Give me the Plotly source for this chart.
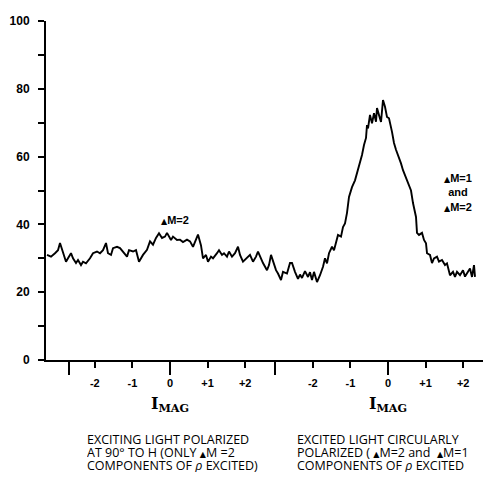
import plotly.graph_objects as go

# Chart-recorder scan position (arbitrary units along the recording) and signal
scan_pos = [0, 4, 8, 11, 13, 15, 17, 19, 21, 24, 26, 29, 31, 34, 36, 39, 43, 46, 50, 53,
            56, 59, 61, 64, 66, 70, 73, 76, 80, 82, 86, 89, 92, 96, 100, 103, 106, 109, 112, 115,
            118, 120, 124, 126, 130, 133, 136, 140, 143, 146, 149, 151, 154, 156, 159, 161, 164, 166, 170, 172,
            175, 177, 180, 182, 185, 188, 191, 193, 196, 200, 203, 206, 209, 211, 214, 216, 220, 222, 224, 226,
            229, 231, 234, 236, 240, 243, 245, 248, 251, 253, 255, 258, 261, 263, 265, 267, 270, 273, 276, 278,
            280, 282, 285, 287, 289, 291, 294, 296, 298, 300, 302, 305, 308, 310, 312, 315, 317, 319, 320, 321,
            323, 325, 327, 329, 330, 332, 334, 336, 338, 340, 342, 345, 347, 349, 351, 354, 356, 359, 361, 364,
            366, 369, 370, 372, 375, 377, 379, 380, 383, 385, 387, 390, 392, 395, 398, 400, 403, 406, 408, 410,
            413, 416, 418, 420, 423, 425, 427, 428]
signal = [31.0, 30.5, 31.5, 32.4, 34.5, 32.4, 30.5, 29.0, 30.0, 31.5, 30.0, 28.6, 29.5, 28.0, 29.0, 28.5, 30.0, 31.5, 32.0, 31.5,
          32.4, 34.5, 31.5, 31.0, 33.0, 33.4, 33.0, 32.0, 30.5, 32.4, 32.0, 32.4, 29.0, 31.0, 32.5, 35.0, 34.0, 36.0, 37.4, 36.0,
          36.4, 37.5, 35.4, 36.4, 35.4, 35.5, 34.8, 35.5, 35.0, 33.4, 35.4, 37.0, 33.8, 30.0, 31.0, 29.0, 30.5, 30.0, 31.5, 32.4,
          31.0, 31.5, 30.5, 32.0, 30.5, 31.5, 33.4, 31.0, 29.0, 30.0, 31.0, 29.0, 30.5, 32.0, 30.0, 28.6, 26.5, 28.0, 31.0, 29.0,
          26.5, 25.5, 23.6, 26.0, 25.5, 28.6, 28.6, 26.0, 23.9, 25.2, 24.2, 26.2, 24.5, 25.9, 23.6, 26.0, 23.0, 25.0, 27.5, 30.0,
          28.5, 31.5, 33.4, 32.4, 34.8, 36.9, 36.4, 39.2, 40.3, 43.4, 48.1, 51.0, 53.0, 55.0, 57.5, 60.5, 63.4, 65.5, 69.3, 68.3,
          72.3, 69.8, 72.8, 70.3, 74.3, 71.8, 70.2, 76.7, 74.7, 71.7, 71.3, 67.3, 64.0, 62.0, 60.5, 58.0, 56.0, 53.7, 52.5, 50.0,
          46.3, 42.2, 37.5, 36.9, 37.5, 35.4, 34.4, 31.5, 31.0, 28.6, 30.0, 30.5, 29.0, 29.5, 28.0, 28.5, 25.0, 26.0, 24.5, 26.0,
          25.0, 26.5, 24.6, 25.5, 27.0, 24.5, 28.0, 24.5]

# Field calibration: scan position of I_MAG = 0 in each run, scan units per I_MAG unit
zero_left = 123
zero_right = 341
units_per_imag = 37.6
imag_labels = ["-2", "-1", "0", "+1", "+2"]
imag_steps = [-2, -1, 0, 1, 2]
long_tick_pos = [22, 123, 228, 341]

y_ticks = [0, 20, 40, 60, 80, 100]

tickvals = [zero_left + k * units_per_imag for k in imag_steps] + \
           [zero_right + k * units_per_imag for k in imag_steps]
ticktext = imag_labels + imag_labels

fig = go.Figure()
fig.add_trace(go.Scatter(x=scan_pos, y=signal, mode="lines",
                         line=dict(color="black", width=1.9), showlegend=False,
                         hoverinfo="skip"))
# invisible trace on overlay axis for long ticks
fig.add_trace(go.Scatter(x=[scan_pos[0]], y=[signal[0]], xaxis="x2", mode="markers",
                         marker=dict(opacity=0), showlegend=False, hoverinfo="skip"))

xr = [-1, 436]
fig.update_layout(
    width=483, height=477,
    margin=dict(l=46, r=0, t=21, b=117),
    paper_bgcolor="white", plot_bgcolor="white",
    xaxis=dict(range=xr, tickmode="array", tickvals=tickvals, ticktext=ticktext,
               ticks="outside", ticklen=6, tickwidth=2, tickcolor="black",
               showline=True, linecolor="black", linewidth=2, showgrid=False, zeroline=False,
               tickfont=dict(family="Liberation Sans", size=11, color="black", weight="bold"),
               ticklabelstandoff=6),
    xaxis2=dict(range=xr, overlaying="x", side="bottom", tickmode="array",
                tickvals=long_tick_pos, ticks="outside", ticklen=14, tickwidth=2,
                tickcolor="black", showticklabels=False, showline=False,
                showgrid=False, zeroline=False),
    yaxis=dict(range=[0, 100], tickmode="array", tickvals=y_ticks,
               ticks="outside", ticklen=6, tickwidth=2, tickcolor="black",
               minor=dict(dtick=10, tick0=0, ticks="outside", ticklen=6, tickwidth=2, tickcolor="black"),
               showline=True, linecolor="black", linewidth=2, showgrid=False, zeroline=False,
               tickfont=dict(family="Liberation Sans", size=12, color="black", weight="bold"),
               ticklabelstandoff=6),
)

tri = "<span style='font-family:DejaVu Sans;font-size:8px;color:black'>▲</span>"
fig.add_annotation(x=128, y=41.3, xref="x", yref="y", showarrow=False,
                   text=f"<b>{tri}M=2</b>",
                   font=dict(family="Liberation Sans", size=11, color="black"))
fig.add_annotation(x=411, y=49.3, xref="x", yref="y", showarrow=False,
                   text=f"<b>{tri}M=1<br>and<br>{tri}M=2</b>", align="center",
                   font=dict(family="Liberation Sans", size=11, color="black"))

def paper_y(py):
    return (360 - py) / 339.0

for zp in (zero_left, zero_right):
    fig.add_annotation(x=zp, y=paper_y(417), xref="x", yref="paper", showarrow=False,
                       text="<b>I</b><sub><b>MAG</b></sub>",
                       font=dict(family="DejaVu Serif", size=16, color="black"))

rho = "<i>ρ</i>"
left_lines = ["EXCITING LIGHT POLARIZED",
              f"AT 90° TO H (ONLY {tri}M =2",
              f"COMPONENTS OF {rho} EXCITED)"]
right_lines = ["EXCITED LIGHT CIRCULARLY",
               f"POLARIZED ( {tri}M=2 and  {tri}M=1",
               f"COMPONENTS OF {rho} EXCITED"]
line_y = [439, 452, 465]
for x0, lines in ((38, left_lines), (248, right_lines)):
    for t, py in zip(lines, line_y):
        fig.add_annotation(x=x0, y=paper_y(py), xref="x", yref="paper", showarrow=False,
                           xanchor="left", yanchor="middle", text=t, height=13,
                           valign="middle",
                           font=dict(family="Open Sans", size=12.5, color="black"))

fig.write_html("out.html")
